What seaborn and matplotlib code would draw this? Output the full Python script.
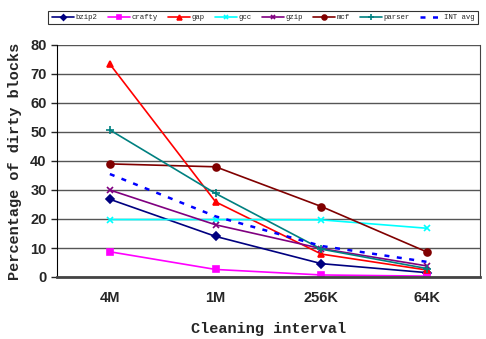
import matplotlib
matplotlib.use("Agg")
import matplotlib.pyplot as plt
import seaborn as sns
import numpy as np

categories = ["4M", "1M", "256K", "64K"]
bzip2 = [26.8, 14.0, 4.6, 1.5]
crafty = [8.7, 2.6, 0.7, 0.3]
gap = [73.4, 25.9, 7.9, 2.4]
gcc = [19.8, 19.8, 19.7, 16.8]
gzip = [30.0, 18.0, 9.8, 3.8]
mcf = [39.0, 38.0, 24.3, 8.6]
parser = [50.7, 28.8, 9.6, 2.9]
int_avg = [35.5, 20.9, 10.7, 5.2]

series_names = ["bzip2", "crafty", "gap", "gcc", "gzip", "mcf", "parser", "INT avg"]
series_values = [bzip2, crafty, gap, gcc, gzip, mcf, parser, int_avg]
colors = ["#000080", "#FF00FF", "#FF0000", "#00FFFF", "#800080", "#800000", "#008080", "#0000FF"]
markers = ["D", "s", "^", "x", "x", "o", "+", None]
msizes = [4, 5, 5, 5, 5, 5, 6, 0]

sns.set_style("white")
fig = plt.figure(figsize=(4.86, 3.39), dpi=100)
ax = fig.add_axes([57/486, 1 - 277/339, 423/486, 232/339])

x = np.arange(len(categories))
for name, vals, c, m, ms in zip(series_names, series_values, colors, markers, msizes):
    ls = (0, (2, 3)) if name == "INT avg" else "-"
    lw = 1.8 if name == "INT avg" else 1.2
    sns.lineplot(x=x, y=vals, ax=ax, color=c, marker=m, markersize=ms,
                 markeredgecolor=c, markeredgewidth=1.2, linestyle=ls, linewidth=lw,
                 label=name, legend=False)

ax.set_xlim(-0.5, 3.5)
ax.set_ylim(0, 80)
ax.set_yticks(np.arange(0, 81, 10))
ax.set_xticks(x)
ax.set_xticklabels(categories)
ax.set_xticks(np.arange(-0.5, 3.6, 1), minor=True)
ax.tick_params(axis="x", which="major", length=0, pad=10)
ax.tick_params(axis="x", which="minor", length=4, direction="out", color="black", width=1)
ax.tick_params(axis="y", length=4, direction="out", width=1, left=True)
ax.yaxis.grid(True, color="#555555", linewidth=1.0)
ax.set_axisbelow(True)
for lab in ax.get_xticklabels() + ax.get_yticklabels():
    lab.set_fontfamily("Liberation Sans")
    lab.set_fontweight("bold")
    lab.set_fontsize(10.5)
for s in ["left", "bottom", "right"]:
    ax.spines[s].set_visible(True)
    ax.spines[s].set_color("#444444")
ax.spines["bottom"].set_linewidth(2)
ax.spines["left"].set_color("black")
ax.spines["top"].set_visible(False)

ax.set_xlabel("Cleaning interval", fontfamily="Liberation Mono", fontweight="bold", fontsize=11, labelpad=12)
ax.set_ylabel("Percentage of dirty blocks", fontfamily="Liberation Mono", fontweight="bold", fontsize=11, labelpad=6)

h, l = ax.get_legend_handles_labels()
leg = fig.legend(h, l, loc="upper center", bbox_to_anchor=(263/486, 1 - 7/339), ncol=8,
                 prop={"family": "Liberation Mono", "size": 5.3}, frameon=True,
                 fancybox=False, edgecolor="black", handlelength=3.0, handletextpad=0.2,
                 columnspacing=1.4, borderpad=0.45, markerscale=0.7)
leg.get_frame().set_linewidth(0.8)

fig.savefig("out.png", dpi=100)
